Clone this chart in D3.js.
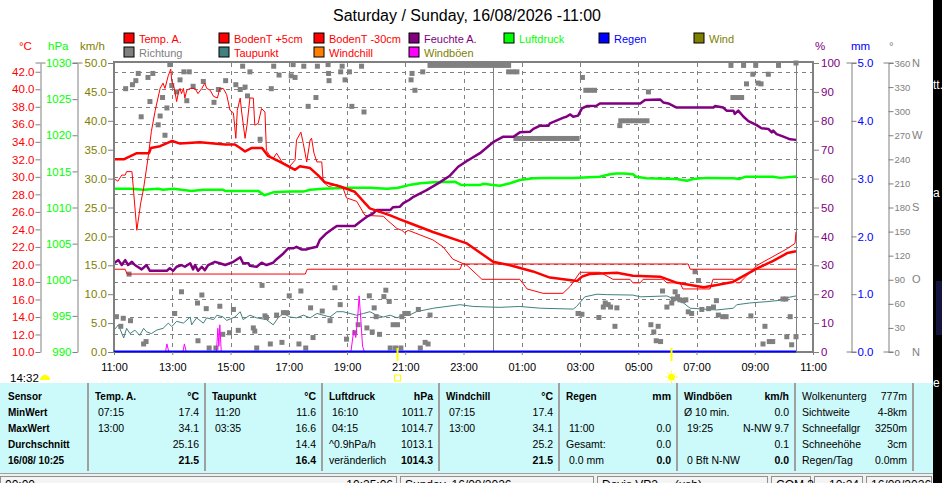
<!DOCTYPE html>
<html>
<head>
<meta charset="utf-8">
<script src="https://cdnjs.cloudflare.com/ajax/libs/d3/7.8.5/d3.min.js"></script>
<style>
  body { margin: 0; background: #fff; overflow: hidden; }
  svg { display: block; font-family: "Liberation Sans", Arial, sans-serif; }
</style>
</head>
<body>
<svg width="942" height="483"></svg>
<script>
// times are hours counted from Saturday 00:00 (values above 24 are Sunday)
const tempA = [[11.00,32.0],[11.34,32.0],[11.79,32.7],[12.20,32.7],[12.27,33.3],[12.58,33.5],[13.00,34.1],[13.27,33.8],[13.95,33.95],[14.81,33.7],[15.15,33.7],[15.33,33.3],[15.50,32.9],[15.74,33.3],[16.08,33.3],[16.29,32.4],[16.70,31.7],[17.21,30.8],[17.38,31.2],[17.73,31.0],[18.00,30.2],[18.24,29.4],[18.76,28.9],[19.27,28.3],[19.62,27.0],[19.79,26.4],[20.48,25.6],[20.82,25.15],[21.16,24.7],[21.95,23.7],[23.12,22.4],[24.01,20.3],[24.60,19.9],[25.39,19.2],[25.97,18.5],[26.90,18.1],[27.07,18.6],[27.34,18.9],[28.27,19.05],[28.82,18.7],[29.75,18.6],[30.33,17.9],[31.25,17.4],[31.70,17.65],[32.25,18.0],[33.08,19.55],[33.63,20.4],[34.11,21.3],[34.42,21.5]];

const bodenT5 = [[11.00,29.8],[11.14,29.5],[11.26,30.2],[11.38,30.2],[11.44,30.6],[11.61,30.6],[11.78,23.9],[11.92,27.0],[12.01,28.7],[12.18,32.5],[12.29,35.2],[12.41,37.6],[12.58,40.1],[12.69,40.7],[12.75,40.1],[12.86,41.6],[12.95,42.3],[12.98,40.9],[13.04,40.5],[13.09,39.9],[13.15,38.6],[13.21,39.7],[13.27,40.1],[13.32,39.5],[13.38,40.1],[13.44,39.0],[13.50,39.9],[13.61,40.1],[13.78,40.1],[13.89,39.5],[14.01,40.1],[14.12,40.7],[14.18,40.1],[14.30,39.9],[14.41,39.2],[14.55,39.0],[14.64,40.1],[14.75,40.1],[14.87,39.4],[14.98,37.6],[15.10,37.3],[15.18,34.4],[15.23,37.6],[15.33,39.0],[15.38,37.4],[15.50,34.4],[15.56,35.9],[15.67,39.0],[15.78,39.0],[15.84,35.9],[15.95,36.1],[16.07,37.8],[16.18,37.4],[16.24,33.0],[16.41,32.1],[16.47,32.1],[16.59,32.7],[16.76,31.7],[17.04,31.2],[17.21,31.9],[17.27,34.2],[17.41,35.1],[17.50,33.8],[17.62,31.7],[17.73,34.2],[17.79,34.4],[17.87,32.7],[17.96,31.7],[18.13,31.7],[18.19,29.4],[18.36,28.9],[18.65,29.1],[18.87,28.7],[18.99,27.6],[19.33,27.2],[19.62,25.6],[20.25,25.5],[20.36,25.1],[20.71,24.1],[20.88,23.9],[20.99,23.6],[21.10,23.9],[21.95,22.8],[22.30,22.0],[22.64,20.6],[23.12,19.9],[23.64,18.3],[24.94,18.3],[25.18,17.2],[25.73,16.7],[26.42,16.7],[26.66,17.5],[27.00,19.1],[27.69,19.1],[28.13,18.3],[28.72,18.3],[28.82,17.9],[29.06,17.9],[29.16,18.3],[29.85,18.3],[29.98,17.9],[30.43,17.9],[30.53,17.2],[31.46,17.2],[31.57,18.3],[32.25,18.3],[32.39,17.9],[32.49,17.9],[33.08,19.9],[34.11,21.8],[34.38,22.4],[34.42,23.7]];

const bodenT30 = [[11.00,19.45],[11.38,19.45],[11.45,18.9],[17.56,18.9],[17.63,19.45],[22.88,19.45],[22.95,20.05],[30.71,20.05],[30.78,19.45],[34.42,19.45]];

const feuchte = [[11.00,30.7],[11.15,31.8],[11.26,30.1],[11.38,31.8],[11.49,30.1],[11.61,31.2],[11.72,30.1],[11.95,28.6],[12.12,30.1],[12.24,28.1],[12.81,28.1],[12.92,29.0],[13.04,28.1],[13.15,29.5],[13.32,30.1],[13.44,29.5],[13.61,30.7],[13.72,28.6],[13.78,30.1],[13.89,28.1],[14.01,29.5],[14.12,28.3],[14.24,30.1],[14.47,31.2],[14.64,30.7],[14.81,30.1],[15.10,31.2],[15.33,32.8],[15.44,30.7],[15.61,30.7],[15.67,29.8],[15.90,29.5],[16.07,30.9],[16.24,30.1],[16.47,30.9],[16.59,32.1],[16.81,34.1],[16.98,35.9],[17.16,35.9],[17.27,36.4],[17.44,35.5],[17.62,35.5],[17.73,35.9],[17.96,36.4],[18.07,38.8],[18.30,41.1],[18.53,42.8],[18.65,43.6],[19.27,43.6],[19.45,45.1],[19.68,46.8],[19.90,48.0],[20.02,49.1],[20.48,49.1],[20.59,50.1],[20.82,50.3],[20.93,51.5],[21.14,52.6],[21.28,53.7],[21.74,56.0],[22.19,58.7],[22.54,61.0],[22.82,64.1],[23.11,66.1],[23.57,68.8],[24.02,72.6],[24.37,74.5],[24.71,74.5],[24.94,76.0],[25.28,76.2],[25.40,77.2],[25.63,78.3],[25.91,78.3],[25.97,79.1],[26.43,81.1],[26.54,81.4],[26.66,82.2],[26.77,81.4],[26.94,81.8],[27.06,84.3],[27.23,85.1],[27.57,85.2],[27.69,86.0],[29.06,86.0],[29.23,87.2],[29.75,87.4],[29.86,86.3],[30.03,86.0],[30.32,84.6],[31.58,84.6],[31.64,85.1],[31.92,84.6],[32.04,83.5],[32.26,83.5],[32.32,82.4],[32.44,83.5],[32.61,81.4],[32.78,79.9],[33.07,78.5],[33.24,77.4],[33.47,77.2],[33.58,76.0],[33.64,76.6],[33.75,75.4],[33.98,74.5],[34.21,73.6],[34.42,73.4]];

const luftdruck = [[11.00,1012.6],[11.55,1012.6],[12.01,1012.45],[12.52,1012.6],[12.69,1012.45],[13.04,1012.6],[13.32,1012.45],[13.67,1012.3],[14.07,1012.45],[14.75,1012.45],[14.81,1012.3],[15.95,1012.3],[16.17,1011.7],[16.47,1012.1],[17.04,1012.2],[17.50,1012.2],[17.73,1012.45],[18.19,1012.6],[18.87,1012.7],[19.22,1012.75],[19.79,1012.75],[20.36,1012.6],[20.71,1012.7],[20.93,1012.9],[21.14,1013.1],[21.51,1013.35],[21.96,1013.5],[22.71,1013.55],[22.94,1013.1],[23.57,1013.1],[23.68,1013.3],[24.02,1013.1],[24.25,1013.0],[24.60,1013.35],[24.94,1013.8],[25.40,1014.05],[25.97,1014.1],[26.77,1014.1],[27.69,1014.25],[28.03,1014.6],[28.25,1014.7],[28.50,1014.7],[28.82,1014.6],[28.94,1014.25],[29.29,1014.05],[30.32,1013.95],[30.67,1013.7],[30.89,1013.95],[31.35,1014.1],[32.26,1014.05],[32.49,1013.95],[32.66,1014.25],[33.64,1014.25],[33.87,1014.1],[34.42,1014.3]];

const taupunkt = [[11.00,12.5],[11.15,13.1],[11.33,11.6],[11.44,12.7],[11.55,12.1],[11.72,12.5],[11.89,11.9],[12.01,12.7],[12.12,12.3],[12.29,12.1],[12.47,12.5],[12.69,12.7],[12.86,13.3],[12.98,12.9],[13.15,13.5],[13.38,13.3],[13.61,14.0],[13.67,13.1],[13.84,13.9],[14.07,13.3],[14.18,13.9],[14.41,13.7],[14.53,14.2],[14.75,14.0],[14.87,13.6],[15.15,14.0],[15.33,14.6],[15.44,13.7],[15.67,14.2],[15.90,13.9],[16.24,13.7],[16.47,13.1],[16.64,13.9],[16.81,14.4],[17.04,14.0],[17.27,13.9],[17.50,14.2],[17.73,13.9],[17.96,14.4],[18.19,14.2],[18.42,14.0],[18.65,14.6],[18.87,14.6],[19.10,14.4],[19.33,14.2],[19.56,14.4],[19.79,14.6],[20.02,14.2],[20.25,14.0],[20.48,14.2],[20.71,13.9],[20.93,14.2],[21.14,14.2],[21.39,14.6],[21.96,15.0],[22.88,15.4],[23.34,15.2],[24.25,15.1],[24.94,15.2],[25.63,15.0],[26.77,14.9],[26.88,15.2],[27.17,16.3],[27.58,16.6],[27.92,16.55],[28.82,16.5],[29.06,16.3],[29.98,16.4],[30.32,15.9],[30.55,15.6],[30.78,15.0],[31.70,14.8],[32.26,15.0],[32.38,15.4],[32.84,15.6],[33.41,15.75],[33.87,15.9],[34.10,16.2],[34.42,16.4]];

const windboeen = [[11.00,0],[12.76,0],[12.82,1.4],[12.88,0],[13.36,0],[13.42,1.4],[13.48,0],[14.52,0],[14.57,4.1],[14.60,1.0],[14.63,4.7],[14.68,0],[19.14,0],[19.24,3.8],[19.30,2.5],[19.36,6.0],[19.42,9.7],[19.48,5.0],[19.53,1.0],[19.60,0],[34.42,0]];

const wind = [[11.00,0],[34.42,0]];
const regen = [[11.00,0],[34.42,0]];

const richtung = [[11.09,44],[11.24,32],[11.32,42],[11.40,328],[11.52,97],[11.57,39],[11.64,333],[11.75,338],[11.83,347],[11.93,293],
  [12.01,10],[12.10,13],[12.16,342],[12.24,312],[12.33,347],[12.52,283],[12.58,294],[12.66,317],[12.75,270],[12.81,304],[12.92,358],[12.98,332],
  [13.09,48],[13.15,324],[13.27,339],[13.32,75],[13.40,349],[13.50,313],[13.58,349],[13.72,331],[13.86,61],[13.89,14],
  [14.01,71],[14.07,337],[14.16,54],[14.26,5],[14.43,311],[14.50,5],[14.58,327],[14.64,57],[14.73,22],[14.84,338],[14.96,24],
  [15.10,53],[15.18,333],[15.27,27],[15.33,327],[15.42,356],[15.50,330],[15.58,319],[15.67,349],[15.78,30],[15.84,26],[15.90,5],
  [16.01,265],[16.09,83],[16.18,45],[16.24,43],[16.36,10],[16.40,328],[16.48,356],[16.59,46],[16.67,345],[16.76,12],[16.81,49],[16.93,49],
  [17.01,70],[17.08,344],[17.15,358],[17.22,342],[17.35,10],[17.42,76],[17.52,356],[17.59,5],[17.67,306],[17.75,55],[17.84,18],[17.94,317],[17.98,356],
  [18.15,51],[18.35,358],[18.36,347],[18.39,338],[18.42,39],[18.59,80],[18.76,59],[18.79,349],[18.84,356],[18.93,339],[18.99,16],
  [19.08,349],[19.16,306],[19.27,24],[19.39,34],[19.50,356],[19.58,299],[19.68,30],[19.77,70],[19.87,25],[19.93,55],
  [20.00,44],[20.11,22],[20.27,69],[20.34,77],[20.45,63],[20.48,5],[20.59,34],[20.67,5],[20.73,34],[20.85,5],[20.88,44],
  [20.99,48],[21.05,48],[21.10,48],[21.20,339],[21.24,347],[21.33,326],[21.45,53],[21.51,5],[21.60,349],[21.68,12],[21.79,10],[21.85,46],
  [21.85,357],[22.00,357],[22.15,357],[22.30,357],[22.45,357],[22.60,357],[22.75,357],[22.90,357],[23.05,357],[23.20,357],
  [23.35,357],[23.50,357],[23.65,357],[23.80,357],[23.95,357],[24.10,357],[24.25,357],[24.40,357],[24.55,357],
  [24.55,349],[24.70,349],[24.83,349],
  [24.80,266],[24.95,266],[25.10,266],[25.25,266],[25.40,266],[25.55,266],[25.70,266],[25.85,266],[26.00,266],[26.15,266],
  [26.30,266],[26.45,266],[26.60,266],[26.75,266],[26.90,266],
  [26.94,48],[27.06,47],[27.09,342],[27.20,326],[27.35,326],[27.50,326],[27.65,43],[27.80,56],[27.86,61],[27.97,59],[28.05,56],[28.20,32],[28.26,55],
  [28.37,282],[28.40,288],[28.55,288],[28.70,288],[28.85,288],[29.00,288],[29.15,288],[29.30,288],[29.35,324],[29.43,34],[29.54,25],[29.61,14],[29.69,32],[29.77,13],[29.84,76],[29.98,56],
  [30.15,61],[30.20,66],[30.26,75],[30.35,69],[30.43,65],[30.55,64],[30.63,65],[30.72,50],[30.84,48],[30.95,100],
  [31.06,89],[31.18,53],[31.41,54],[31.58,56],[31.69,64],[31.75,46],[31.90,44],
  [32.01,44],[32.19,357],[32.25,317],[32.40,317],[32.55,317],[32.61,357],[32.72,334],[32.86,45],[32.93,346],
  [33.04,357],[33.12,335],[33.21,334],[33.29,10],[33.35,32],[33.47,346],[33.50,13],[33.62,13],[33.81,357],[33.96,66],
  [34.07,66],[34.10,19],[34.21,44],[34.27,9],[34.42,19],[34.42,360]];

const tempTicks = d3.range(10, 43, 2);
const hpaTicks = d3.range(990, 1031, 5);
const kmhTicks = d3.range(0, 51, 5);
const humTicks = d3.range(0, 101, 10);
const mmTicks = d3.range(0, 6, 1);
const degTicks = d3.range(0, 361, 30);
const compass = { 360: 'N', 270: 'W', 180: 'S', 90: 'O', 0: 'N' };
const hourTicks = d3.range(11, 36, 2);
const sunMarks = [20.72, 30.12];
const nowHour = 34.42;

const legendItems = [
  ['Temp. A.', '#ff0000', '#ff0000'], ['BodenT +5cm', '#ff0000', '#ff0000'], ['BodenT -30cm', '#ff0000', '#ff0000'],
  ['Feuchte A.', '#800080', '#800080'], ['Luftdruck', '#00ff00', '#00ff00'], ['Regen', '#0000ff', '#0000ff'],
  ['Wind', '#808000', '#808000'], ['Richtung', '#808080', '#808080'], ['Taupunkt', '#408080', '#ff0000'],
  ['Windchill', '#ff8000', '#ff0000'], ['Windböen', '#ff00ff', '#808000']
];

const tableCols = [
  { head: 'Sensor', unit: '', rows: [['MinWert', ''], ['MaxWert', ''], ['Durchschnitt', ''], ['16/08/ 10:25', '']], allBold: true },
  { head: 'Temp. A.', unit: '°C', rows: [[' 07:15', '17.4'], [' 13:00', '34.1'], ['', '25.16'], ['', '21.5']] },
  { head: 'Taupunkt', unit: '°C', rows: [[' 11:20', '11.6'], [' 03:35', '16.6'], ['', '14.4'], ['', '16.4']] },
  { head: 'Luftdruck', unit: 'hPa', rows: [[' 16:10', '1011.7'], [' 04:15', '1014.7'], ['^0.9hPa/h', '1013.1'], ['veränderlich', '1014.3']] },
  { head: 'Windchill', unit: '°C', rows: [[' 07:15', '17.4'], [' 13:00', '34.1'], ['', '25.2'], ['', '21.5']] },
  { head: 'Regen', unit: 'mm', rows: [['', ''], [' 11:00', '0.0'], ['Gesamt:', '0.0'], [' 0.0 mm', '0.0']] },
  { head: 'Windböen', unit: 'km/h', rows: [['Ø 10 min.', '0.0'], [' 19:25', 'N-NW 9.7'], ['', '0.1'], [' 0 Bft N-NW', '0.0']] },
  { head: 'Wolkenunterg', unit: '777m', rows: [['Sichtweite', '4-8km'], ['Schneefallgr', '3250m'], ['Schneehöhe', '3cm'], ['Regen/Tag', '0.0mm']], plain: true }
];
const tableSeps = [88, 205, 322, 439, 559, 677, 795, 913];

const statusPanels = [
  [0, 397, '00:00', '10:25:06'], [400, 594, 'Sunday, 16/08/2026', ''], [597, 768, 'Davis VP2 ... (usb)', ''],
  [771, 811, 'COM 3', ''], [814, 863, '   10:24', ''], [866, 932, '16/08/2026', '']
];

const svg = d3.select('svg');
const plot = { left: 114, right: 813, top: 63, bottom: 352 };
const toDate = h => new Date(2026, 7, 15, 0, Math.round(h * 60));

const x = d3.scaleTime().domain([toDate(11), toDate(35)]).range([plot.left, plot.right]);
const yT = d3.scaleLinear().domain([10, 43]).range([plot.bottom, plot.top]);
const yP = d3.scaleLinear().domain([990, 1030]).range([plot.bottom, plot.top]);
const yV = d3.scaleLinear().domain([0, 50]).range([plot.bottom, plot.top]);
const yH = d3.scaleLinear().domain([0, 100]).range([plot.bottom, plot.top]);
const yR = d3.scaleLinear().domain([0, 5]).range([plot.bottom, plot.top]);
const yD = d3.scaleLinear().domain([0, 360]).range([plot.bottom, plot.top]);

svg.append('rect').attr('width', 942).attr('height', 483).attr('fill', '#fff');

// title
svg.append('text').attr('x', 467).attr('y', 21).attr('text-anchor', 'middle')
  .attr('font-size', 16).text('Saturday / Sunday, 16/08/2026 -11:00');

// legend
const leg = svg.append('g').selectAll('g').data(legendItems).join('g')
  .attr('transform', (d, i) => `translate(${124 + (i < 7 ? i : i - 7) * 95},${i < 7 ? 33 : 47})`);
leg.append('rect').attr('width', 10).attr('height', 10).attr('fill', d => d[1]).attr('stroke', '#000');
leg.append('text').attr('x', 15).attr('y', 9.5).attr('font-size', 11).attr('fill', d => d[2]).text(d => d[0]);

// unit labels
[['°C', 19, '#ff0000'], ['hPa', 48, '#00ff00'], ['km/h', 80, '#808000'],
 ['%', 815, '#800080'], ['mm', 851, '#0000ff'], ['°', 889, '#808080']].forEach(([t, px, c]) => {
  svg.append('text').attr('x', px).attr('y', 50).attr('font-size', 11.5).attr('fill', c).text(t);
});

// grid
const grid = svg.append('g').attr('stroke', '#808080').attr('stroke-width', 1);
grid.selectAll('.h').data(tempTicks.slice(1)).join('line')
  .attr('x1', plot.left).attr('x2', plot.right)
  .attr('y1', d => Math.round(yT(d)) + 0.5).attr('y2', d => Math.round(yT(d)) + 0.5)
  .attr('stroke-dasharray', '4,4');
grid.selectAll('.v').data(hourTicks.slice(1, -1).filter(h => h !== 24)).join('line')
  .attr('x1', d => Math.round(x(toDate(d))) + 0.5).attr('x2', d => Math.round(x(toDate(d))) + 0.5)
  .attr('y1', plot.top).attr('y2', plot.bottom)
  .attr('stroke-dasharray', '4,4');
[24, nowHour].forEach(h => {
  grid.append('line').attr('x1', Math.round(x(toDate(h))) + 0.5).attr('x2', Math.round(x(toDate(h))) + 0.5)
    .attr('y1', plot.top).attr('y2', plot.bottom);
});

const lineOf = (data, y) => d3.line().x(d => x(toDate(d[0]))).y(d => y(d[1]))(data);
const drawLine = (data, y, color, w) => svg.append('path').attr('d', lineOf(data, y))
  .attr('fill', 'none').attr('stroke', color).attr('stroke-width', w).attr('stroke-linejoin', 'round');

drawLine(taupunkt, yT, '#408080', 1);

svg.append('g').selectAll('rect').data(richtung).join('rect')
  .attr('x', d => x(toDate(d[0])) - 2.5).attr('y', d => yD(d[1]) - 2.5)
  .attr('width', 5).attr('height', 5).attr('fill', '#808080');

drawLine(luftdruck, yP, '#00ff00', 2.5);
drawLine(bodenT30, yT, '#ff0000', 1);
drawLine(bodenT5, yT, '#ff0000', 1);
drawLine(feuchte, yH, '#800080', 2.5);
drawLine(tempA, yT, '#ff0000', 2.5);
drawLine(windboeen, yV, '#ff00ff', 1);
drawLine(wind, yV, '#808000', 1);

// frame
const frame = svg.append('g').attr('stroke', '#808080').attr('stroke-width', 2);
frame.append('line').attr('x1', plot.left - 1).attr('x2', plot.right + 1).attr('y1', 62).attr('y2', 62);
frame.append('line').attr('x1', plot.left).attr('x2', plot.left).attr('y1', 62).attr('y2', plot.bottom + 1);
frame.append('line').attr('x1', plot.right).attr('x2', plot.right).attr('y1', 62).attr('y2', plot.bottom + 1);
frame.append('line').attr('x1', plot.left).attr('x2', plot.right).attr('y1', plot.bottom).attr('y2', plot.bottom);

drawLine(regen, yR, '#0000ff', 2).attr('transform', 'translate(0,-0.5)');

// y axes
function styleAxis(g, color) {
  g.attr('font-family', null).attr('font-size', 11.5);
  g.select('.domain').attr('stroke', '#808080');
  g.selectAll('.tick line').attr('stroke', '#808080');
  g.selectAll('.tick text').attr('fill', color);
}
function addAxis(axis, px, color, caps) {
  const g = svg.append('g').attr('transform', `translate(${px},0)`).call(axis);
  styleAxis(g, color);
  caps.forEach(cy => g.append('line').attr('x1', -5).attr('x2', 5).attr('y1', cy).attr('y2', cy).attr('stroke', '#808080'));
  return g;
}
const f1 = d3.format('.1f');
addAxis(d3.axisLeft(yT).tickValues(tempTicks).tickFormat(f1).tickSize(5).tickPadding(1).tickSizeOuter(0), 40.5, '#ff0000', [plot.top]);
addAxis(d3.axisLeft(yP).tickValues(hpaTicks).tickFormat(d3.format('d')).tickSize(5).tickPadding(1).tickSizeOuter(0), 77.5, '#00ff00', [plot.top]);
addAxis(d3.axisLeft(yV).tickValues(kmhTicks).tickFormat(f1).tickSize(5).tickPadding(1).tickSizeOuter(0), plot.left - 1, '#808000', [])
  .select('.domain').remove();
addAxis(d3.axisRight(yH).tickValues(humTicks).tickFormat(d3.format('d')).tickSize(5).tickPadding(2).tickSizeOuter(0), plot.right + 1, '#800080', [])
  .select('.domain').remove();
addAxis(d3.axisRight(yR).tickValues(mmTicks).tickFormat(f1).tickSize(5).tickPadding(1).tickSizeOuter(0), 851.5, '#0000ff', [plot.top, plot.bottom]);
const gDeg = addAxis(d3.axisRight(yD).tickValues(degTicks).tickFormat(d3.format('d')).tickSize(5).tickPadding(1).tickSizeOuter(0), 888.5, '#808080', [plot.top, plot.bottom]);
// degree labels with the compass letter inside the same text
gDeg.selectAll('.tick text').attr('font-size', 9.5).each(function (d) {
  if (compass[d]) d3.select(this).append('tspan').attr('x', 23.5).attr('font-size', 11).text(compass[d]);
});

// x axis
const gx = svg.append('g').attr('transform', `translate(0,${plot.bottom})`)
  .call(d3.axisBottom(x).tickValues(hourTicks.map(toDate)).tickFormat(d3.timeFormat('%H:%M')).tickSize(3).tickPadding(8).tickSizeOuter(0));
gx.attr('font-family', null).attr('font-size', 11);
gx.select('.domain').remove();
gx.selectAll('.tick line').attr('stroke', '#808080');
gx.selectAll('.tick text').attr('fill', '#000');

// sun marks
sunMarks.forEach((h, i) => {
  const sx = Math.round(x(toDate(h))) + 0.5;
  svg.append('line').attr('x1', sx).attr('x2', sx).attr('y1', 348).attr('y2', 361)
    .attr('stroke', '#ffff00').attr('stroke-width', 2);
  if (i === 0) {
    svg.append('rect').attr('x', sx - 3).attr('y', 375).attr('width', 6).attr('height', 6)
      .attr('fill', 'none').attr('stroke', '#ffff00');
  } else {
    const sun = svg.append('g').attr('transform', `translate(${sx},377)`);
    sun.append('circle').attr('r', 3.5).attr('fill', '#ffff00');
    d3.range(8).forEach(k => {
      const a = k * Math.PI / 4;
      sun.append('line').attr('x1', Math.cos(a) * 4.5).attr('y1', Math.sin(a) * 4.5)
        .attr('x2', Math.cos(a) * 6).attr('y2', Math.sin(a) * 6).attr('stroke', '#ffff00');
    });
  }
});
svg.append('text').attr('x', 10).attr('y', 381.5).attr('font-size', 11.5).text('14:32');
svg.append('path').attr('d', 'M40,380 A5,5 0 0 1 50,380 Z').attr('fill', '#ffff00');

// table
svg.append('rect').attr('x', 0).attr('y', 383).attr('width', 933).attr('height', 90).attr('fill', '#ccfafa');
svg.append('g').selectAll('line').data(tableSeps).join('line')
  .attr('x1', d => d).attr('x2', d => d).attr('y1', 383).attr('y2', 471)
  .attr('stroke', '#a0a0a0').attr('stroke-width', 2);
const rowY = [400, 416, 432, 448, 464];
tableCols.forEach((c, i) => {
  const left = i === 0 ? 8 : tableSeps[i - 1] + 7;
  const right = tableSeps[i] - 6;
  const g = svg.append('g').attr('font-size', 10.5).attr('fill', '#000');
  g.append('text').attr('x', left).attr('y', rowY[0]).attr('font-weight', c.plain ? null : 'bold')
    .attr('font-size', c.plain ? 10.5 : 10).text(c.head);
  g.append('text').attr('x', right).attr('y', rowY[0]).attr('text-anchor', 'end')
    .attr('font-weight', c.plain ? null : 'bold').text(c.unit);
  c.rows.forEach((r, j) => {
    g.append('text').attr('x', left).attr('y', rowY[j + 1]).attr('xml:space', 'preserve')
      .attr('font-weight', c.allBold ? 'bold' : null).attr('font-size', c.allBold ? 10 : 10.5).text(r[0]);
    g.append('text').attr('x', right).attr('y', rowY[j + 1]).attr('text-anchor', 'end')
      .attr('font-weight', (j === 3 && !c.plain) ? 'bold' : null).text(r[1]);
  });
});

// status bar (only the top of it is inside the window)
svg.append('line').attr('x1', 0).attr('x2', 933).attr('y1', 473.5).attr('y2', 473.5).attr('stroke', '#a0a0a0');
svg.append('rect').attr('x', 0).attr('y', 474).attr('width', 933).attr('height', 9).attr('fill', '#f0f0f0');
statusPanels.forEach(([a, b, t1, t2]) => {
  svg.append('rect').attr('x', a + 0.5).attr('y', 476.5).attr('width', b - a - 1).attr('height', 12)
    .attr('fill', '#f4f4f4').attr('stroke', '#909090');
  svg.append('text').attr('x', a + 5).attr('y', 489).attr('font-size', 12).attr('xml:space', 'preserve').text(t1);
  if (t2) svg.append('text').attr('x', b - 4).attr('y', 489).attr('font-size', 12).attr('text-anchor', 'end').text(t2);
});

// background window strip at the right edge
svg.append('rect').attr('x', 933).attr('y', 0).attr('width', 9).attr('height', 483).attr('fill', '#000');
svg.append('rect').attr('x', 936).attr('y', 281).attr('width', 6).attr('height', 54).attr('fill', '#14143c');
[['tt.', 89], ['a', 197], ['e', 387]].forEach(([t, ty]) => {
  svg.append('text').attr('x', 933).attr('y', ty).attr('font-size', 12).attr('fill', '#fff').text(t);
});
</script>
</body>
</html>
